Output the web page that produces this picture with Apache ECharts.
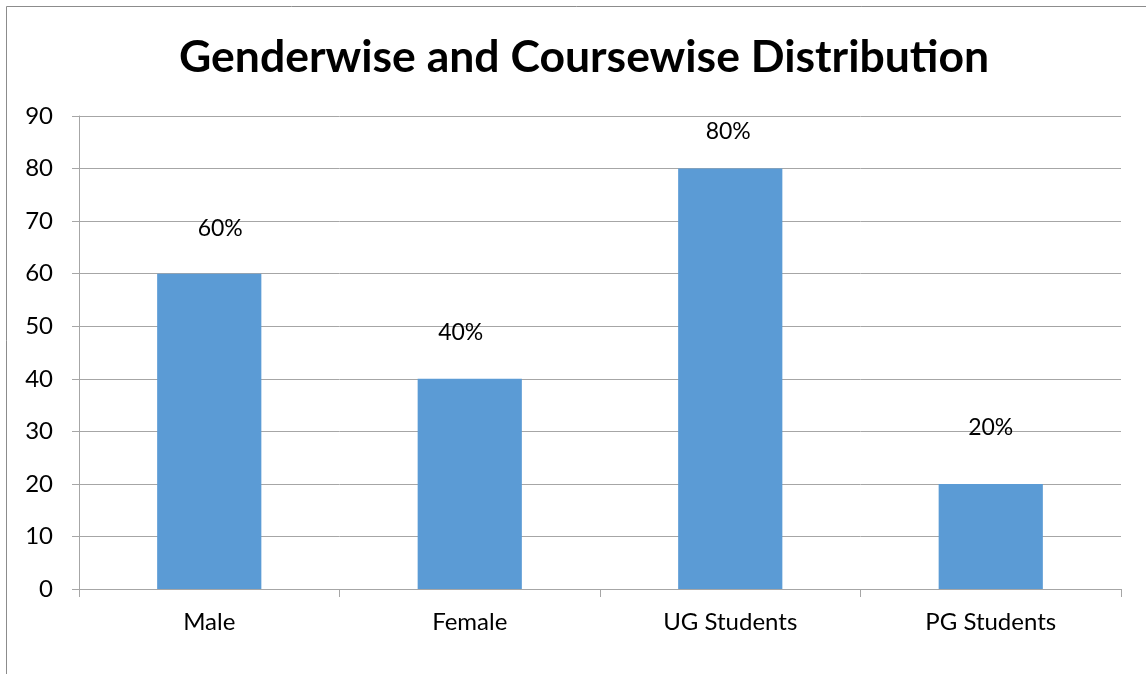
<!DOCTYPE html>
<html>
<head>
<meta charset="utf-8">
<script src="https://cdn.jsdelivr.net/npm/echarts@6/dist/echarts.min.js"></script>
<style>
  html, body { margin: 0; padding: 0; background: #fff; }
  #chart { width: 1146px; height: 674px; }
</style>
</head>
<body>
<div id="chart"></div>
<script>
// data
const categories = ['Male', 'Female', 'UG Students', 'PG Students']
const values = [60, 40, 80, 20]
const labels = ['60%', '40%', '80%', '20%']
const yTicks = [0, 90, 10] // min, max, interval

// the labels were dragged around by hand in the original, nudge them the same
const labelNudge = [[11, 0], [-9, -1], [-2, 9], [0, -11]]

const font = 'Lato, Carlito, "Noto Sans", sans-serif'
const gridColor = '#A6A6A6'

const myChart = echarts.init(document.getElementById('chart'))

const option = {
  backgroundColor: '#fff',
  animation: false,
  title: {
    text: 'Genderwise and Coursewise Distribution',
    left: 174,
    top: 30,
    textStyle: {
      fontFamily: font,
      fontWeight: 'bold',
      fontSize: 44.5,
      color: '#000',
    },
  },
  graphic: [
    {
      // chart area border (only left/top visible in the crop)
      type: 'rect',
      shape: { x: 6.5, y: 6.5, width: 1300, height: 800 },
      style: { fill: null, stroke: '#8C8C8C', lineWidth: 1 },
      silent: true,
    },
  ],
  grid: {
    left: 79,
    right: 25,
    top: 116,
    bottom: 85,
    containLabel: false,
  },
  xAxis: {
    type: 'category',
    data: categories,
    axisLine: { show: true, lineStyle: { color: gridColor, width: 1 } },
    axisTick: { show: true, length: 8, alignWithLabel: false, lineStyle: { color: gridColor } },
    axisLabel: {
      fontFamily: font,
      fontSize: 24,
      color: '#000',
      margin: 21,
    },
  },
  yAxis: {
    type: 'value',
    min: yTicks[0],
    max: yTicks[1],
    interval: yTicks[2],
    axisLine: { show: true, lineStyle: { color: gridColor, width: 1 } },
    axisTick: { show: true, inside: false, length: 7, lineStyle: { color: gridColor } },
    splitLine: { show: true, lineStyle: { color: gridColor, width: 1 } },
    axisLabel: {
      fontFamily: font,
      fontSize: 24,
      color: '#000',
      margin: 26,
    },
  },
  series: [
    {
      type: 'bar',
      barWidth: '40%',
      itemStyle: { color: '#5B9BD5' },
      label: {
        show: true,
        position: 'top',
        distance: 34,
        fontFamily: font,
        fontSize: 23,
        color: '#000',
        formatter: (p) => labels[p.dataIndex],
      },
      data: values.map((v, i) => ({
        value: v,
        label: { offset: labelNudge[i] },
      })),
    },
  ],
}

myChart.setOption(option)
</script>
</body>
</html>
